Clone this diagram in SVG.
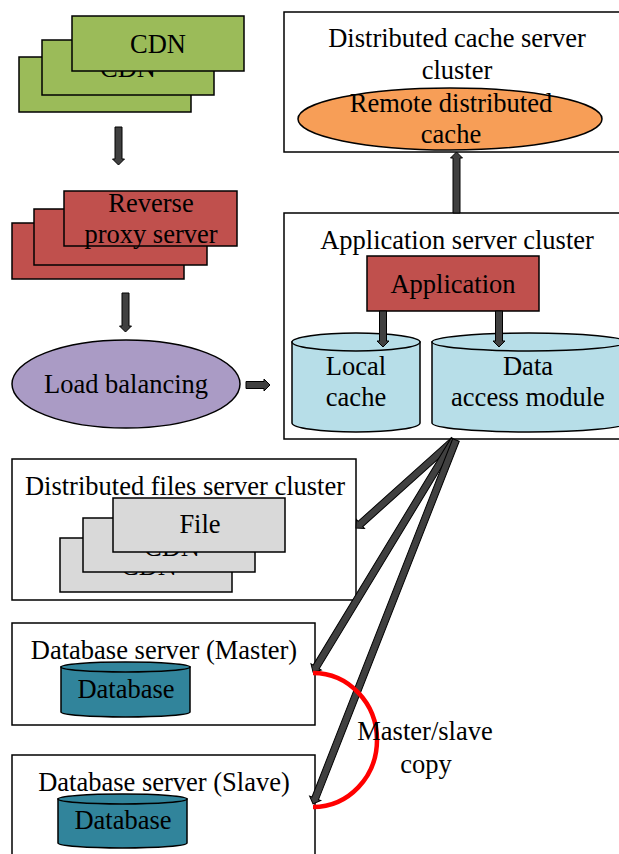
<svg xmlns="http://www.w3.org/2000/svg" width="619" height="854" viewBox="0 0 619 854">
<style>
text{font-family:"Liberation Serif","Times New Roman",serif;font-size:26.5px;fill:#000;text-anchor:middle}
.box{fill:#fff;stroke:#000;stroke-width:1.5}
.sh{stroke:#000;stroke-width:1.5}
.green{fill:#9BBB59}
.red{fill:#C0504D}
.gray{fill:#D9D9D9}
.arr{fill:#404040;stroke:#000;stroke-width:1}
</style>
<rect width="619" height="854" fill="#fff"/>

<g id="cdn">
<rect class="green sh" x="19" y="57" width="172" height="55"/>
<rect class="green sh" x="42" y="40" width="172" height="55"/>
<text x="128" y="77">CDN</text>
<rect class="green sh" x="72" y="16" width="172" height="55"/>
<text x="158" y="53">CDN</text>
</g>

<g id="reverse-proxy">
<rect class="red sh" x="12" y="223" width="172" height="56"/>
<rect class="red sh" x="34" y="209" width="173" height="56"/>
<rect class="red sh" x="64" y="191" width="173" height="55"/>
<text x="151" y="212">Reverse</text>
<text x="151" y="243">proxy server</text>
</g>

<g id="load-balancing">
<ellipse cx="126" cy="384" rx="114" ry="44" fill="#AA9BC5" stroke="#000" stroke-width="1.5"/>
<text x="126" y="393">Load balancing</text>
</g>

<g id="cache-cluster">
<rect class="box" x="284" y="12" width="345" height="140"/>
<text x="457" y="47">Distributed cache server</text>
<text x="457" y="79">cluster</text>
<ellipse cx="450" cy="119" rx="152" ry="31" fill="#F79E57" stroke="#000" stroke-width="1.5"/>
<text x="451" y="112">Remote distributed</text>
<text x="451" y="143">cache</text>
</g>

<g id="app-cluster">
<rect class="box" x="284" y="213" width="345" height="226"/>
<text x="457" y="249">Application server cluster</text>
<rect class="red sh" x="367" y="256" width="172" height="55"/>
<text x="453" y="293">Application</text>
</g>

<g id="local-cache">
<path d="M292,342 V423 A64,9 0 0 0 420,423 V342 Z" fill="#B7DEE8" stroke="#000" stroke-width="1.5"/>
<ellipse cx="356" cy="342" rx="64" ry="9" fill="#B7DEE8" stroke="#000" stroke-width="1.5"/>
<text x="356" y="375">Local</text>
<text x="356" y="406">cache</text>
</g>

<g id="data-access">
<path d="M432,342 V423 A97,9 0 0 0 626,423 V342 Z" fill="#B7DEE8" stroke="#000" stroke-width="1.5"/>
<ellipse cx="529" cy="342" rx="97" ry="9" fill="#B7DEE8" stroke="#000" stroke-width="1.5"/>
<text x="528" y="375">Data</text>
<text x="528" y="406">access module</text>
</g>

<g id="files-cluster">
<rect class="box" x="12" y="459" width="344" height="141"/>
<text x="185" y="495">Distributed files server cluster</text>
<rect class="gray sh" x="60" y="538" width="172" height="54"/>
<text x="149" y="575">CDN</text>
<rect class="gray sh" x="83" y="518" width="172" height="54"/>
<text x="172" y="556">CDN</text>
<rect class="gray sh" x="113" y="498" width="172" height="54"/>
<text x="200" y="533">File</text>
</g>

<g id="db-master">
<rect class="box" x="12" y="623" width="303" height="102"/>
<text x="164" y="659">Database server (Master)</text>
<path d="M61,667 V712 A64.5,5 0 0 0 190,712 V667 Z" fill="#31849B" stroke="#000" stroke-width="1.5"/>
<ellipse cx="125.5" cy="667" rx="64.5" ry="5" fill="#31849B" stroke="#000" stroke-width="1.5"/>
<text x="126" y="698">Database</text>
</g>

<g id="db-slave">
<rect class="box" x="12" y="755" width="303" height="110"/>
<text x="164" y="791">Database server (Slave)</text>
<path d="M58,799 V843 A64.5,5 0 0 0 187,843 V799 Z" fill="#31849B" stroke="#000" stroke-width="1.5"/>
<ellipse cx="122.5" cy="799" rx="64.5" ry="5" fill="#31849B" stroke="#000" stroke-width="1.5"/>
<text x="123" y="829">Database</text>
</g>

<g id="connectors">
<path class="arr" transform="translate(118.5,127) rotate(90)" d="M0,-3.5 H32 V-6 L38,0 L32,6 V3.5 H0 Z"/>
<path class="arr" transform="translate(125.5,293) rotate(90)" d="M0,-3.5 H33 V-6 L39,0 L33,6 V3.5 H0 Z"/>
<path class="arr" transform="translate(246,385)" d="M0,-3.5 H18 V-6 L24,0 L18,6 V3.5 H0 Z"/>
<path class="arr" transform="translate(456.5,213) rotate(-90)" d="M0,-3.5 H55 V-6 L61,0 L55,6 V3.5 H0 Z"/>
<path class="arr" transform="translate(383,311) rotate(90)" d="M0,-3.5 H30 V-6 L36,0 L30,6 V3.5 H0 Z"/>
<path class="arr" transform="translate(499,311) rotate(90)" d="M0,-3.5 H30 V-6 L36,0 L30,6 V3.5 H0 Z"/>
<path class="arr" transform="translate(454,440) rotate(138.08)" d="M0,-3.5 H125.7 V-6 L131.7,0 L125.7,6 V3.5 H0 Z"/>
<path class="arr" transform="translate(454,440) rotate(121.28)" d="M0,-3.5 H265.5 V-6 L271.5,0 L265.5,6 V3.5 H0 Z"/>
<path class="arr" transform="translate(456,440) rotate(111.45)" d="M0,-3.5 H385 V-6 L391,0 L385,6 V3.5 H0 Z"/>
<path d="M313,673 A64,67 0 0 1 313,807" fill="none" stroke="#FF0000" stroke-width="4.5"/>
</g>

<g id="label-master-slave">
<text x="425" y="740">Master/slave</text>
<text x="426" y="773">copy</text>
</g>
</svg>
